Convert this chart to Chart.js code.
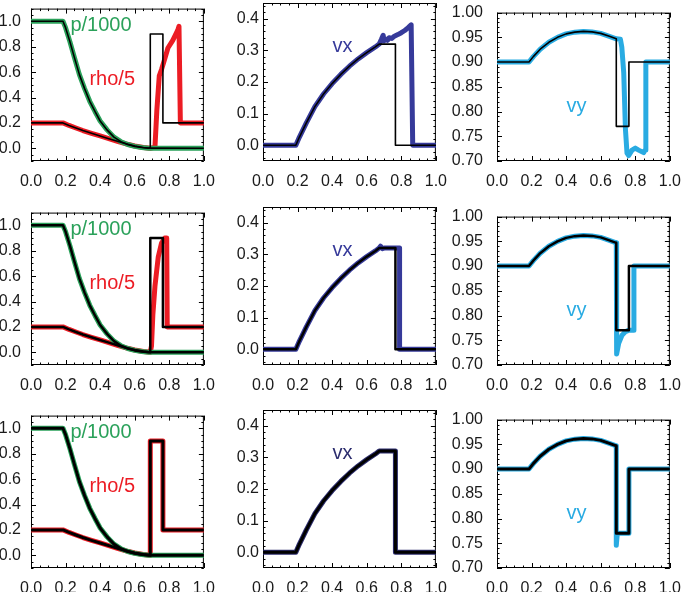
<!DOCTYPE html>
<html>
<head>
<meta charset="utf-8">
<script src="https://cdn.jsdelivr.net/npm/chart.js@4.4.0/dist/chart.umd.min.js"></script>
<style>
  body { margin: 0; background: #fff; }
  #wrap { position: relative; width: 685px; height: 592px; overflow: hidden; }
  #wrap canvas { position: absolute; }
</style>
</head>
<body>
<div id="wrap"></div>
<script>
// tick values
var xTicks = [0, 0.2, 0.4, 0.6, 0.8, 1.0];
var rhoTicks = [0, 0.2, 0.4, 0.6, 0.8, 1.0];
var vxTicks = [0, 0.1, 0.2, 0.3, 0.4];
var vyTicks = [0.70, 0.75, 0.80, 0.85, 0.90, 0.95, 1.00];

// exact solution (thin black, same in every row)
var pExactX = [0, 0.185, 0.20, 0.225, 0.25, 0.28, 0.31, 0.34, 0.37, 0.40, 0.44, 0.48, 0.52, 0.56, 0.60, 0.64, 0.68, 1];
var pExactY = [1, 1, 0.95, 0.84, 0.72, 0.58, 0.47, 0.37, 0.29, 0.215, 0.145, 0.088, 0.052, 0.03, 0.015, 0.006, 0.001, 0];

var rhoExactX = [0, 0.185, 0.22, 0.26, 0.30, 0.35, 0.40, 0.45, 0.50, 0.55, 0.60, 0.65, 0.69, 0.69, 0.763, 0.763, 1];
var rhoExactY = [0.2, 0.2, 0.18, 0.16, 0.14, 0.118, 0.097, 0.076, 0.055, 0.035, 0.018, 0.006, 0, 0.9, 0.9, 0.2, 0.2];

var vxExactX = [0, 0.19, 0.21, 0.25, 0.30, 0.35, 0.40, 0.45, 0.50, 0.55, 0.60, 0.65, 0.672, 0.766, 0.766, 1];
var vxExactY = [0, 0, 0.025, 0.07, 0.122, 0.162, 0.195, 0.224, 0.25, 0.273, 0.293, 0.311, 0.32, 0.32, 0, 0];

var vyExactX = [0, 0.185, 0.21, 0.25, 0.30, 0.35, 0.40, 0.45, 0.50, 0.55, 0.60, 0.65, 0.69, 0.69, 0.763, 0.763, 1];
var vyExactY = [0.9, 0.9, 0.911, 0.926, 0.94, 0.95, 0.957, 0.9605, 0.962, 0.961, 0.958, 0.952, 0.947, 0.77, 0.77, 0.9, 0.9];

// numerical runs, row 1
var rho1X = [0, 0.185, 0.22, 0.26, 0.30, 0.35, 0.40, 0.45, 0.50, 0.55, 0.60, 0.65, 0.69, 0.717, 0.728, 0.742, 0.755, 0.775, 0.792, 0.82, 0.849, 0.856, 0.864, 1];
var rho1Y = [0.2, 0.2, 0.18, 0.16, 0.14, 0.118, 0.097, 0.076, 0.055, 0.035, 0.018, 0.006, 0, 0.01, 0.3, 0.57, 0.62, 0.71, 0.79, 0.85, 0.93, 0.96, 0.2, 0.2];
var vx1X = [0, 0.19, 0.21, 0.25, 0.30, 0.35, 0.40, 0.45, 0.50, 0.55, 0.60, 0.65, 0.672, 0.685, 0.695, 0.70, 0.71, 0.72, 0.73, 0.745, 0.76, 0.78, 0.80, 0.82, 0.84, 0.857, 0.866, 1];
var vx1Y = [0, 0, 0.025, 0.07, 0.122, 0.162, 0.195, 0.224, 0.25, 0.273, 0.293, 0.311, 0.32, 0.335, 0.348, 0.33, 0.336, 0.332, 0.34, 0.338, 0.345, 0.35, 0.356, 0.363, 0.372, 0.381, 0, 0];
var vy1X = [0, 0.185, 0.21, 0.25, 0.30, 0.35, 0.40, 0.45, 0.50, 0.55, 0.60, 0.65, 0.69, 0.714, 0.722, 0.733, 0.743, 0.752, 0.762, 0.781, 0.80, 0.819, 0.848, 0.857, 0.861, 1];
var vy1Y = [0.9, 0.9, 0.911, 0.926, 0.94, 0.95, 0.957, 0.9605, 0.962, 0.961, 0.958, 0.952, 0.947, 0.946, 0.93, 0.879, 0.764, 0.716, 0.711, 0.722, 0.726, 0.722, 0.717, 0.722, 0.9, 0.9];

// numerical runs, row 2
var rho2X = [0, 0.185, 0.22, 0.26, 0.30, 0.35, 0.40, 0.45, 0.50, 0.55, 0.60, 0.65, 0.69, 0.697, 0.705, 0.717, 0.736, 0.755, 0.774, 0.785, 0.788, 1];
var rho2Y = [0.2, 0.2, 0.18, 0.16, 0.14, 0.118, 0.097, 0.076, 0.055, 0.035, 0.018, 0.006, 0, 0.05, 0.3, 0.52, 0.75, 0.86, 0.9, 0.9, 0.2, 0.2];
var vx2X = [0, 0.19, 0.21, 0.25, 0.30, 0.35, 0.40, 0.45, 0.50, 0.55, 0.60, 0.65, 0.672, 0.68, 0.69, 0.70, 0.79, 0.79, 1];
var vx2Y = [0, 0, 0.025, 0.07, 0.122, 0.162, 0.195, 0.224, 0.25, 0.273, 0.293, 0.311, 0.32, 0.326, 0.318, 0.32, 0.32, 0, 0];
var vy2X = [0, 0.185, 0.21, 0.25, 0.30, 0.35, 0.40, 0.45, 0.50, 0.55, 0.60, 0.65, 0.69, 0.692, 0.704, 0.723, 0.742, 0.76, 0.79, 0.792, 1];
var vy2Y = [0.9, 0.9, 0.911, 0.926, 0.94, 0.95, 0.957, 0.9605, 0.962, 0.961, 0.958, 0.952, 0.947, 0.722, 0.744, 0.76, 0.767, 0.77, 0.77, 0.9, 0.9];

// numerical runs, row 3 (rho, p and vx sit on the exact curves)
var vy3X = [0, 0.185, 0.21, 0.25, 0.30, 0.35, 0.40, 0.45, 0.50, 0.55, 0.60, 0.65, 0.69, 0.69, 0.696, 0.763, 0.763, 1];
var vy3Y = [0.9, 0.9, 0.911, 0.926, 0.94, 0.95, 0.957, 0.9605, 0.962, 0.961, 0.958, 0.952, 0.947, 0.746, 0.77, 0.77, 0.9, 0.9];

var GREEN = '#2aa15a', RED = '#ec1c24', LBLUE = '#29abe2';
var vxColors = ['#363a9a', '#363a9a', '#2c2d6e'];
var blackWidth = [1.6, 2.5, 3];

var rowTop = [3, 207, 410];
var colLeft = [31, 263, 497];
var PW = 175, PH = 158;
var PADL = 60, PADT = 14, PADR = 20, PADB = 34;

function pts(xs, ys) {
  return xs.map(function (x, i) { return { x: x, y: ys[i] }; });
}

function line(xs, ys, color, width, order) {
  return {
    data: pts(xs, ys),
    borderColor: color,
    borderWidth: width,
    pointRadius: 0,
    tension: 0,
    borderJoinStyle: 'round',
    borderCapStyle: 'round',
    fill: false,
    order: order
  };
}

// frame with inward major/minor ticks on all four sides, IDL style
var framePlugin = {
  id: 'frame',
  beforeDatasetsDraw: function (chart, args, opts) {
    var ctx = chart.ctx, a = chart.chartArea;
    var xs = chart.scales.x, ys = chart.scales.y;
    ctx.save();
    ctx.strokeStyle = '#000';
    ctx.lineWidth = 1;
    ctx.strokeRect(a.left + 0.5, a.top + 0.5, a.right - a.left - 1, a.bottom - a.top - 1);
    ctx.beginPath();
    var v, px, len;
    for (v = xs.min; v <= xs.max + 1e-9; v += opts.xMinor) {
      px = Math.round(xs.getPixelForValue(v)) + 0.5;
      len = Math.abs(v / opts.xMajor - Math.round(v / opts.xMajor)) < 1e-6 ? 5 : 2.5;
      ctx.moveTo(px, a.bottom); ctx.lineTo(px, a.bottom - len);
      ctx.moveTo(px, a.top); ctx.lineTo(px, a.top + len);
    }
    var start = Math.ceil(ys.min / opts.yMinor - 1e-6) * opts.yMinor;
    for (v = start; v <= ys.max + 1e-9; v += opts.yMinor) {
      px = Math.round(ys.getPixelForValue(v)) + 0.5;
      len = Math.abs(v / opts.yMajor - Math.round(v / opts.yMajor)) < 1e-6 ? 5 : 2.5;
      ctx.moveTo(a.left, px); ctx.lineTo(a.left + len, px);
      ctx.moveTo(a.right, px); ctx.lineTo(a.right - len, px);
    }
    ctx.stroke();
    ctx.restore();
  },
  afterDatasetsDraw: function (chart, args, opts) {
    var ctx = chart.ctx;
    ctx.save();
    ctx.font = '20px "Liberation Sans", Arial, sans-serif';
    ctx.textAlign = 'center';
    ctx.textBaseline = 'middle';
    (opts.labels || []).forEach(function (l) {
      ctx.fillStyle = l.color;
      ctx.fillText(l.text, chart.scales.x.getPixelForValue(l.x), chart.scales.y.getPixelForValue(l.y));
    });
    ctx.restore();
  }
};

function makePanel(row, col, datasets, yMin, yMax, yTicks, yDec, yMajor, yMinor, labelPad, labels) {
  var c = document.createElement('canvas');
  c.width = PW + PADL + PADR;
  c.height = PH + PADT + PADB;
  c.style.left = (colLeft[col] - PADL) + 'px';
  c.style.top = (rowTop[row] - PADT) + 'px';
  document.getElementById('wrap').appendChild(c);
  var tickFont = { family: '"Liberation Sans", Arial, sans-serif', size: 16 };
  new Chart(c, {
    type: 'line',
    data: { datasets: datasets },
    plugins: [framePlugin],
    options: {
      responsive: false,
      animation: false,
      devicePixelRatio: 1,
      layout: { padding: { top: PADT, right: PADR, left: 0, bottom: 0 } },
      plugins: {
        legend: { display: false },
        tooltip: { enabled: false },
        frame: { xMajor: 0.2, xMinor: 0.05, yMajor: yMajor, yMinor: yMinor, labels: labels }
      },
      scales: {
        x: {
          type: 'linear', min: 0, max: 1,
          afterBuildTicks: function (s) { s.ticks = xTicks.map(function (v) { return { value: v }; }); },
          afterFit: function (s) { s.height = PADB; },
          grid: { display: false, drawTicks: false },
          border: { display: false },
          ticks: { padding: 11, color: '#1a1a1a', font: tickFont, maxRotation: 0,
            callback: function (v) { return v.toFixed(1); } }
        },
        y: {
          type: 'linear', min: yMin, max: yMax,
          afterBuildTicks: function (s) { s.ticks = yTicks.map(function (v) { return { value: v }; }); },
          afterFit: function (s) { s.width = PADL; },
          grid: { display: false, drawTicks: false },
          border: { display: false },
          ticks: { padding: labelPad, color: '#1a1a1a', font: tickFont,
            callback: function (v) { return v.toFixed(yDec); } }
        }
      }
    }
  });
}

var rhoRows = [[rho1X, rho1Y], [rho2X, rho2Y], [rhoExactX, rhoExactY]];
var vxRows = [[vx1X, vx1Y], [vx2X, vx2Y], [vxExactX, vxExactY]];
var vyRows = [[vy1X, vy1Y], [vy2X, vy2Y], [vy3X, vy3Y]];

for (var r = 0; r < 3; r++) {
  var bw = blackWidth[r];
  makePanel(r, 0, [
    line(pExactX, pExactY, '#000', bw, 0),
    line(rhoExactX, rhoExactY, '#000', bw, 1),
    line(pExactX, pExactY, GREEN, 5, 2),
    line(rhoRows[r][0], rhoRows[r][1], RED, 5, 3)
  ], -0.1, 1.1, rhoTicks, 1, 0.2, 0.05, 10, [
    { text: 'p/1000', x: 0.405, y: 0.97, color: GREEN },
    { text: 'rho/5', x: 0.47, y: 0.54, color: RED }
  ]);
  makePanel(r, 1, [
    line(vxExactX, vxExactY, '#000', bw, 0),
    line(vxRows[r][0], vxRows[r][1], vxColors[r], 5, 1)
  ], -0.05, 0.45, vxTicks, 1, 0.1, 0.02, 4, [
    { text: 'vx', x: 0.46, y: 0.313, color: vxColors[r] }
  ]);
  makePanel(r, 2, [
    line(vyExactX, vyExactY, '#000', bw, 0),
    line(vyRows[r][0], vyRows[r][1], LBLUE, 5, 1)
  ], 0.7, 1.0, vyTicks, 2, 0.05, 0.01, 14, [
    { text: 'vy', x: 0.46, y: 0.81, color: LBLUE }
  ]);
}
</script>
</body>
</html>
